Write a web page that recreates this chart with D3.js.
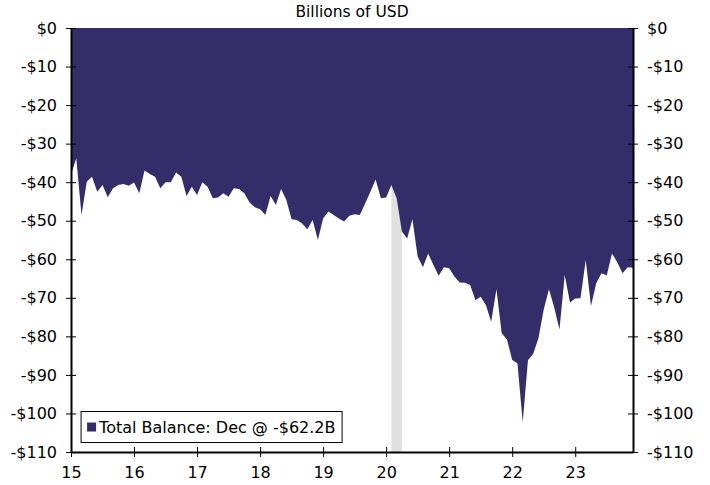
<!DOCTYPE html>
<html>
<head>
<meta charset="utf-8">
<script src="https://cdn.jsdelivr.net/npm/d3@7"></script>
<style>
  body { margin: 0; background: #fff; }
  text { font-family: "DejaVu Sans", Verdana, sans-serif; }
</style>
</head>
<body>
<div id="chart"></div>
<script>
// monthly total balance, billions of USD, Jan 2015 - Dec 2023
const startYear = 2015;
const balance = [
  -38.1, -33.8, -48.5, -39.9, -38.6, -42.5, -40.7, -43.9, -41.6, -40.7, -40.5, -40.9,
  -40.1, -42.9, -37.0, -37.9, -38.6, -41.6, -40.0, -40.0, -37.5, -38.6, -43.6, -41.2,
  -43.3, -40.0, -41.2, -44.2, -44.0, -42.9, -43.8, -41.6, -41.8, -42.9, -45.3, -46.5,
  -47.0, -48.5, -43.6, -45.9, -41.8, -44.6, -49.6, -49.8, -50.7, -52.2, -49.8, -55.0,
  -49.4, -47.6, -48.5, -49.4, -50.2, -48.7, -48.3, -48.5, -45.5, -42.5, -39.3, -44.2,
  -44.0, -40.7, -44.2, -52.8, -54.6, -49.6, -59.3, -62.1, -58.5, -61.5, -64.3, -62.1,
  -62.3, -64.5, -66.0, -66.1, -66.7, -70.6, -69.7, -71.9, -76.2, -67.8, -79.2, -80.8,
  -86.1, -87.0, -102.3, -86.2, -84.5, -80.5, -73.0, -67.8, -72.5, -78.2, -64.1, -71.2,
  -70.2, -70.1, -60.2, -72.1, -66.2, -63.6, -64.2, -58.5, -60.8, -63.6, -62.1, -62.2
];
const xTickYears = [2015, 2016, 2017, 2018, 2019, 2020, 2021, 2022, 2023];
const yTicks = [0, -10, -20, -30, -40, -50, -60, -70, -80, -90, -100, -110];
// recession (Feb 2020 - Apr 2020) as decimal years
const recession = [2020 + 1 / 12, 2020 + 3 / 12];
const legendLabel = "Total Balance: Dec @ -$62.2B";
const title = "Billions of USD";

const W = 710, H = 485;
const margin = {top: 28, right: 77, bottom: 33, left: 71},
      width = W - margin.left - margin.right,
      height = H - margin.top - margin.bottom;

const data = balance.map((v, i) => ({t: startYear + i / 12, v: v}));

const svg = d3.select("#chart")
  .append("svg")
  .attr("width", W)
  .attr("height", H)
  .append("g")
  .attr("transform", `translate(${margin.left}, ${margin.top})`);

const x = d3.scaleLinear()
  .domain([startYear, startYear + (balance.length - 1) / 12])
  .range([0, width]);

const y = d3.scaleLinear()
  .domain([-110, 0])
  .range([height, 0]);

// recession band, behind the area
svg.append("rect")
  .attr("x", x(recession[0]))
  .attr("width", x(recession[1]) - x(recession[0]))
  .attr("y", 0)
  .attr("height", height)
  .style("fill", "#e0e0e0");

// area from zero down to the balance
const area = d3.area()
  .x(d => x(d.t))
  .y0(y(0))
  .y1(d => y(d.v));

svg.append("path")
  .datum(data)
  .attr("d", area)
  .style("fill", "#352c6a");

const fmt = d => d < 0 ? "-$" + (-d) : "$" + d;

// left axis
const left = svg.append("g")
  .call(d3.axisLeft(y).tickValues(yTicks).tickFormat(fmt).tickSizeInner(5).tickSizeOuter(0).tickPadding(9));
// right axis
const right = svg.append("g")
  .attr("transform", `translate(${width}, 0)`)
  .call(d3.axisRight(y).tickValues(yTicks).tickFormat(fmt).tickSizeInner(5).tickSizeOuter(0).tickPadding(9));
// bottom axis
const bottom = svg.append("g")
  .attr("transform", `translate(0, ${height})`)
  .call(d3.axisBottom(x).tickValues(xTickYears).tickFormat(d => String(d).slice(2)).tickSizeInner(5).tickSizeOuter(0).tickPadding(10));

[left, right, bottom].forEach(g => {
  g.select(".domain").style("stroke", "#000").style("stroke-width", 2);
  g.selectAll(".tick line").style("stroke", "#000");
  g.selectAll(".tick text").style("font-size", "16px").style("fill", "#000")
    .style("font-family", "'DejaVu Sans', Verdana, sans-serif");
});
// ticks cross the axis lines
left.selectAll(".tick line").attr("x1", -5).attr("x2", 5);
right.selectAll(".tick line").attr("x1", -5).attr("x2", 5);
bottom.selectAll(".tick line").attr("y1", -5).attr("y2", 5);

// title
svg.append("text")
  .attr("x", width / 2)
  .attr("y", -11)
  .attr("text-anchor", "middle")
  .style("font-size", "15.5px")
  .text(title);

// legend
const lg = svg.append("g").attr("transform", `translate(${x(2015.16)}, ${y(-99.5)})`);
lg.append("rect")
  .attr("width", 261).attr("height", 31)
  .style("fill", "#fff").style("stroke", "#000").style("stroke-width", 1);
lg.append("rect")
  .attr("x", 6).attr("y", 11).attr("width", 9).attr("height", 9)
  .style("fill", "#352c6a");
lg.append("text")
  .attr("x", 18).attr("y", 21)
  .style("font-size", "16px")
  .text(legendLabel);
</script>
</body>
</html>
